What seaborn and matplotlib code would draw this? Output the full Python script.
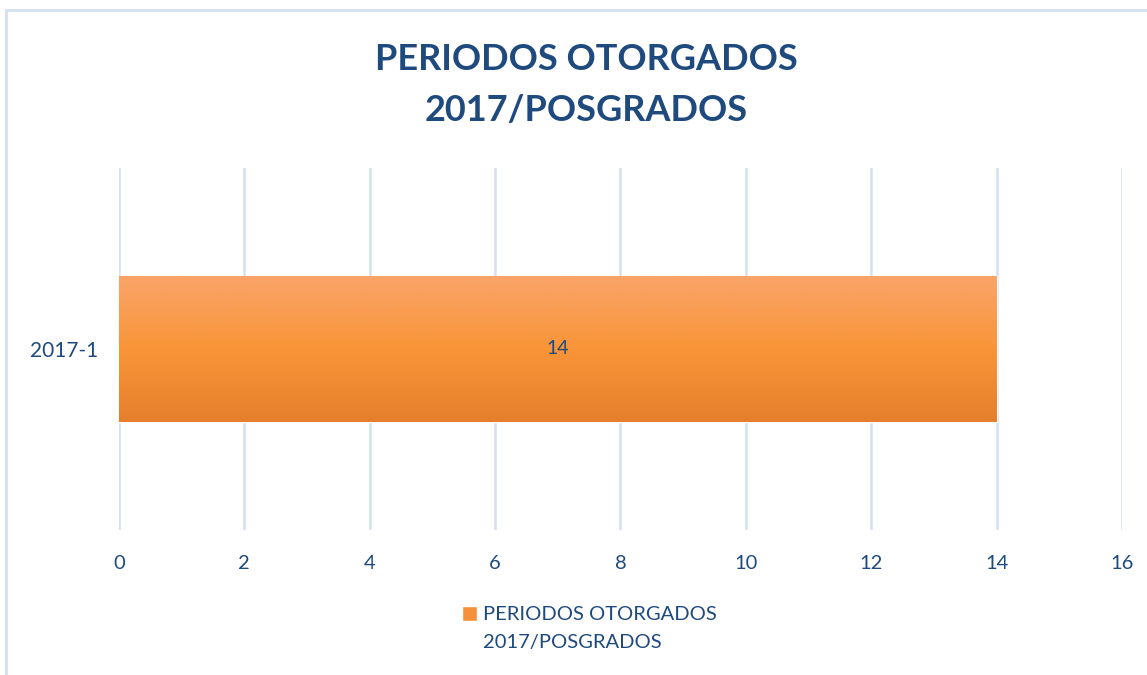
import numpy
import pandas
import seaborn
import matplotlib.pyplot as pyplt
from matplotlib.colors import LinearSegmentedColormap
from matplotlib.patches import Rectangle

periods = ['2017-1']
values = [14]
series_name = 'PERIODOS OTORGADOS\n2017/POSGRADOS'
title = 'PERIODOS OTORGADOS\n2017/POSGRADOS'
xticks = [0, 2, 4, 6, 8, 10, 12, 14, 16]

BLUE = '#1F4A7E'
GRID = '#D3E0F2'

seaborn.set_theme(style='white')
pyplt.rcParams['font.family'] = ['Lato', 'DejaVu Sans']

data = pandas.DataFrame({'period': periods, 'value': values})

fig = pyplt.figure(figsize=(11.47, 6.75), dpi=100)
ax = fig.add_axes([0.1037, 0.215, 0.8745, 0.536])

seaborn.barplot(data=data, x='value', y='period', orient='h', width=0.403,
                color='#F99538', ax=ax, zorder=3)

# vertical gradient inside the bar
grad = LinearSegmentedColormap.from_list('bar', ['#E57F2C', '#F99538', '#F9A469'])
for bar in ax.patches:
    x0, y0 = bar.get_x(), bar.get_y()
    w, h = bar.get_width(), bar.get_height()
    img = ax.imshow(numpy.linspace(0, 1, 256).reshape(-1, 1), cmap=grad, aspect='auto',
                    extent=[x0, x0 + w, y0 + h, y0], origin='lower', zorder=4)
    img.set_clip_path(bar)
    ax.text(x0 + w / 2, y0 + h / 2, f'{w:g}', ha='center', va='center',
            fontsize=14, color=BLUE, zorder=5)

ax.set_xlim(0, 16)
ax.set_ylim(0.5, -0.5)
ax.set_xticks(xticks)
ax.set_xlabel('')
ax.set_ylabel('')
ax.xaxis.grid(True, color=GRID, linewidth=1.8, zorder=0)
ax.set_axisbelow(True)
for s in ax.spines.values():
    s.set_visible(False)
ax.tick_params(axis='x', length=0, pad=18, labelsize=14.5, labelcolor=BLUE)
ax.tick_params(axis='y', length=0, pad=15, labelsize=15, labelcolor=BLUE)

fig.suptitle(title, x=0.511, y=0.937, va='top', fontsize=26, fontweight='bold',
             color=BLUE, linespacing=1.68)

handle = Rectangle((0, 0), 1, 1, facecolor='#F5913B')
leg = fig.legend([handle], [series_name], loc='center left',
                 bbox_to_anchor=(0.387, 0.069), frameon=False, fontsize=14.5,
                 handlelength=0.75, handleheight=0.75, handletextpad=0.3,
                 labelcolor=BLUE)
for t in leg.get_texts():
    t.set_linespacing(1.75)
# put the colour square next to the first line of the label
for col in leg._legend_handle_box.get_children():
    for row in col.get_children():
        row.align = 'top'

# light chart border
fig.patches.append(Rectangle((0.005, -0.1), 1.2, 1.085, transform=fig.transFigure,
                             fill=False, edgecolor=GRID, linewidth=2))

fig.savefig('out.png', dpi=100)
